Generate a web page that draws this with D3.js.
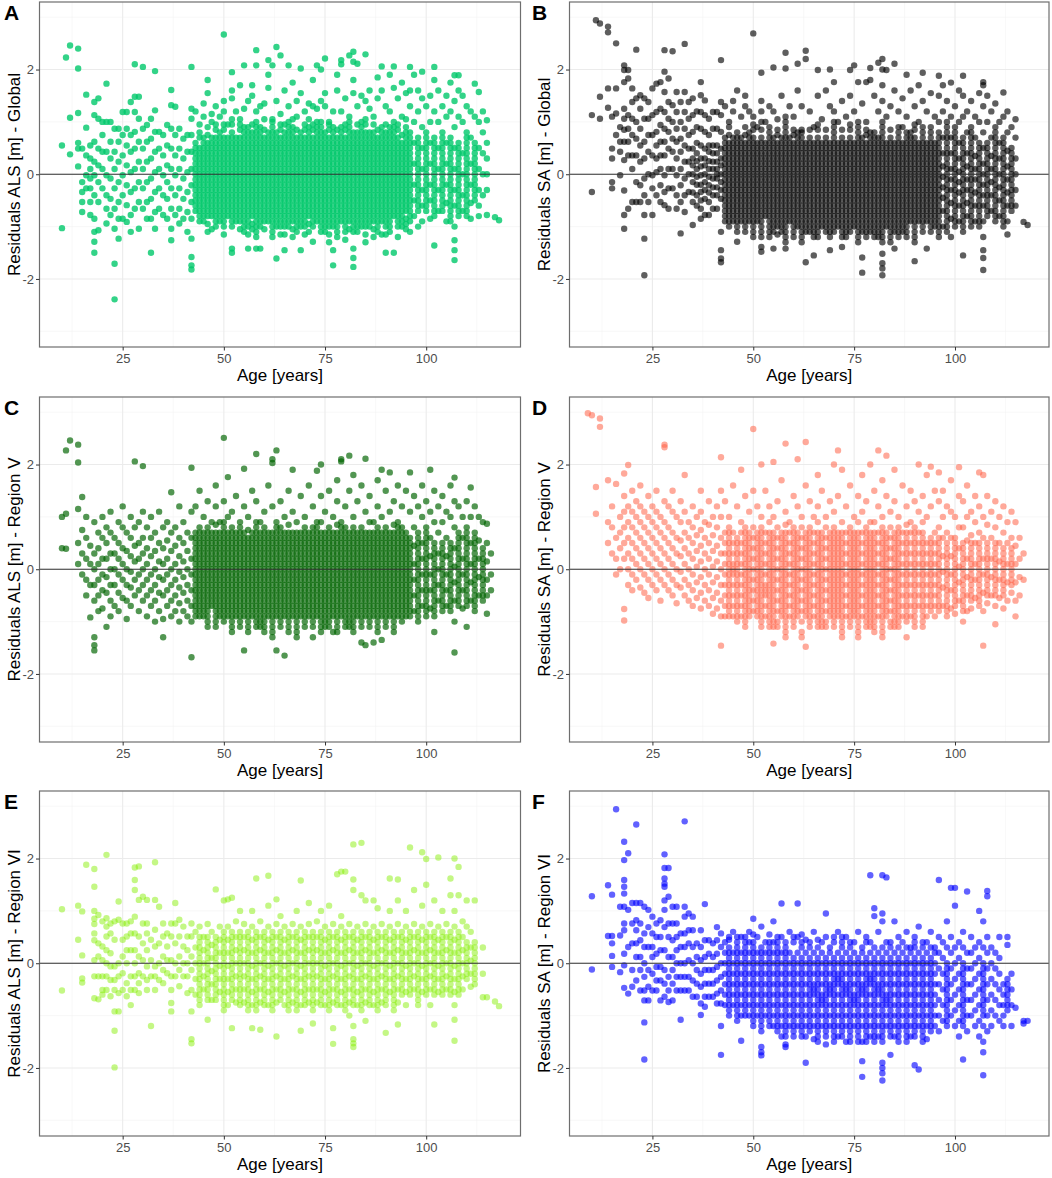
<!DOCTYPE html>
<html lang="en">
<head>
<meta charset="UTF-8">
<title>Residuals by age</title>
<script src="https://d3js.org/d3.v7.min.js"></script>
<style>
  body { margin: 0; background: #fff; }
  text { font-family: "Liberation Sans", Arial, sans-serif; }
</style>
</head>
<body>
<div id="chart"></div>
<script>
// Each row: [age, residual, residual, ...] = points read at that age (an age may appear twice)
const alsGlobal = [
  [10,.55,-1.03],[11,2.23],[12,2.46,1.08,.38],[14,2.4,2.02,1.17,.6,.49,.15],[15,.49,-.15,-.34,-.53,-.72],
  [16,1.52,.89,.36,-.02,-.27],[17,.55,.3,.1,-.08,-.27,-.53,-.78],[18,1.38,1.13,.62,.24,-.02,-.4,-.85,-1.1,-1.29,-1.5],
  [19,1.45,1.06,.49,.17,-.15,-.53,-1.07],[20,1,.75,.43,.1,-.27],[21,1.73,1,.43,-.02,-.4,-.66,-.94],[22,1,.62,.3,-.08,-.47,-.78],
  [23,.87,.43,.1,-.27,-.66,-1.04,-1.71,-2.39],[24,.87,.62,.24,-.15,-.53,-.85,-1.23],[25,1.19,.75,.36,-.02,-.4,-.85],
  [26,1.19,.87,.55,.17,-.21,-.59,-.91],[27,1.38,.75,.43,.04,-.34,-.78,-1.1],[28,2.1,1.48,1.19,.81,.49,.1,-.27,-.66],
  [29,1.48,1.06,.62,.24,-.15,-.53,-1.04],[30,2.05,.87,.49,.1,-.27,-.66],[31,.94,.62,.24,-.15,-.53,-.85],
  [32,1.06,.68,.3,-.08,-.47,-.85,-1.5],[33,1.97,1.22,.81,.43,.04,-.34,-.72,-1.04],[34,.81,.49,.1,-.27,-.66],
  [35,.75,.36,-.02,-.4,-.78],[36,.94,.55,.17,-.15,-.47,-.85],[37,1.61,1.32,.87,.49,.1,-.27,-.66,-1.04,-1.26],
  [38,1.29,.75,.36,-.02,-.4,-.78],[39,.87,.49,.1,-.27,-.66,-.94],[40,.68,.3,-.08,-.47,-.85],[41,.75,.43,.04,-.34,-.72,-1.1],
  [42,2.05,1.25,1.06,.75,.43,.1,-.21,-.53,-.85,-1.23,-1.58,-1.74,-1.82],
  [43,1.2,.6,.5,.4,.3,.2,.1,0,-.1,-.2,-.3,-.4,-.5,-.6,-.7],
  [44,.95,.5,.4,.3,.2,.1,0,-.1,-.2,-.3,-.4,-.5,-.6,-.7,-.8],
  [45,1.35,1.1,.7,.6,.5,.4,.3,.2,.1,0,-.1,-.2,-.3,-.4,-.5,-.6,-.7,-.8,-.9],
  [46,1.8,1.55,.6,.5,.4,.3,.2,.1,0,-.1,-.2,-.3,-.4,-.5,-.6,-.7,-.8],
  [47,1.15,1,.7,.6,.5,.4,.3,.2,.1,0,-.1,-.2,-.3,-.4,-.5,-.6,-.7,-.8,-1.05],
  [48,1.3,.7,.6,.5,.4,.3,.2,.1,0,-.1,-.2,-.3,-.4,-.5,-.6,-.7,-.8,-.9],
  [49,1.1,.8,.7,.6,.5,.4,.3,.2,.1,0,-.1,-.2,-.3,-.4,-.5,-.6,-.7,-.8,-.9],
  [50,2.67,1.4,1.2,.7,.6,.5,.4,.3,.2,.1,0,-.1,-.2,-.3,-.4,-.5,-.6,-.7,-.8,-.9,-1],
  [51,.95,.7,.6,.5,.4,.3,.2,.1,0,-.1,-.2,-.3,-.4,-.5,-.6,-.7,-.8],
  [52,1.95,1.6,1.45,.8,.7,.6,.5,.4,.3,.2,.1,0,-.1,-.2,-.3,-.4,-.5,-.6,-.7,-.8,-.9,-1,-1.42,-1.5],
  [53,1.2,.7,.6,.5,.4,.3,.2,.1,0,-.1,-.2,-.3,-.4,-.5,-.6,-.7,-.8,-.9],
  [54,1.7,1.05,.7,.6,.5,.4,.3,.2,.1,0,-.1,-.2,-.3,-.4,-.5,-.6,-.7,-.8,-.9],
  [55,2.08,1.25,.9,.8,.7,.6,.5,.4,.3,.2,.1,0,-.1,-.2,-.3,-.4,-.5,-.6,-.7,-.8,-.9,-1,-1.1],
  [56,1.4,.7,.6,.5,.4,.3,.2,.1,0,-.1,-.2,-.3,-.4,-.5,-.6,-.7,-.8,-.9,-1,-1.42],
  [57,1.7,1.5,.8,.7,.6,.5,.4,.3,.2,.1,0,-.1,-.2,-.3,-.4,-.5,-.6,-.7,-.8],
  [58,2.37,2.08,1.2,1,.9,.8,.7,.6,.5,.4,.3,.2,.1,0,-.1,-.2,-.3,-.4,-.5,-.6,-.7,-.8,-.9,-1,-1.1,-1.2,-1.42],
  [59,1.3,.7,.6,.5,.4,.3,.2,.1,0,-.1,-.2,-.3,-.4,-.5,-.6,-.7,-.8,-.9,-1.42],
  [60,1.35,1.05,.7,.6,.5,.4,.3,.2,.1,0,-.1,-.2,-.3,-.4,-.5,-.6,-.7,-.8,-.9],
  [61,2.18,1.9,1.65,.8,.7,.6,.5,.4,.3,.2,.1,0,-.1,-.2,-.3,-.4,-.5,-.6,-.7,-.8,-.9],
  [62,2.08,.9,.8,.7,.6,.5,.4,.3,.2,.1,0,-.1,-.2,-.3,-.4,-.5,-.6,-.7,-.8,-.9,-1,-1.1,-1.2],
  [63,2.43,1.4,.8,.7,.6,.5,.4,.3,.2,.1,0,-.1,-.2,-.3,-.4,-.5,-.6,-.7,-.8,-.9,-1,-1.61],
  [64,2.27,1.15,.7,.6,.5,.4,.3,.2,.1,0,-.1,-.2,-.3,-.4,-.5,-.6,-.7,-.8,-.9,-1],
  [65,1.6,.8,.7,.6,.5,.4,.3,.2,.1,0,-.1,-.2,-.3,-.4,-.5,-.6,-.7,-.8,-.9,-1,-1.45],
  [66,2.08,1.3,1,.9,.8,.7,.6,.5,.4,.3,.2,.1,0,-.1,-.2,-.3,-.4,-.5,-.6,-.7,-.8,-.9,-1],
  [67,1.75,.9,.8,.7,.6,.5,.4,.3,.2,.1,0,-.1,-.2,-.3,-.4,-.5,-.6,-.7,-.8,-.9,-1.2],
  [68,1.4,1.1,.7,.6,.5,.4,.3,.2,.1,0,-.1,-.2,-.3,-.4,-.5,-.6,-.7,-.8,-.9],
  [69,2.02,1.55,.8,.7,.6,.5,.4,.3,.2,.1,0,-.1,-.2,-.3,-.4,-.5,-.6,-.7,-.8,-.9,-1,-1.45],
  [70,1.2,.7,.6,.5,.4,.3,.2,.1,0,-.1,-.2,-.3,-.4,-.5,-.6,-.7,-.8,-.9,-1],
  [71,1.35,.9,.8,.7,.6,.5,.4,.3,.2,.1,0,-.1,-.2,-.3,-.4,-.5,-.6,-.7,-.8,-1.1],
  [72,1.8,1.3,.7,.6,.5,.4,.3,.2,.1,0,-.1,-.2,-.3,-.4,-.5,-.6,-.7,-.8,-.9,-1,-1.29],
  [73,2.08,1.25,1,.9,.8,.7,.6,.5,.4,.3,.2,.1,0,-.1,-.2,-.3,-.4,-.5,-.6,-.7,-.8,-.9],
  [74,2,1.4,.8,.7,.6,.5,.4,.3,.2,.1,0,-.1,-.2,-.3,-.4,-.5,-.6,-.7,-.8,-.9,-1.1],
  [75,2.21,1.55,1.3,.8,.7,.6,.5,.4,.3,.2,.1,0,-.1,-.2,-.3,-.4,-.5,-.6,-.7,-.8,-.9,-1,-1.1],
  [76,1,.7,.6,.5,.4,.3,.2,.1,0,-.1,-.2,-.3,-.4,-.5,-.6,-.7,-.8,-.9,-1,-1.3],
  [77,1.2,.9,.8,.7,.6,.5,.4,.3,.2,.1,0,-.1,-.2,-.3,-.4,-.5,-.6,-.7,-.8,-.9,-1,-1.45,-1.74],
  [78,1.9,1.6,.7,.6,.5,.4,.3,.2,.1,0,-.1,-.2,-.3,-.4,-.5,-.6,-.7,-.8,-.9,-1],
  [79,2.18,2.1,1.2,.9,.8,.7,.6,.5,.4,.3,.2,.1,0,-.1,-.2,-.3,-.4,-.5,-.6,-.7,-.8,-.9],
  [80,1.45,.7,.6,.5,.4,.3,.2,.1,0,-.1,-.2,-.3,-.4,-.5,-.6,-.7,-.8,-.9,-1,-1.1],
  [81,2.27,1.1,.9,.8,.7,.6,.5,.4,.3,.2,.1,0,-.1,-.2,-.3,-.4,-.5,-.6,-.7,-.8,-.9],
  [82,2.34,2.15,1.8,1.55,.8,.7,.6,.5,.4,.3,.2,.1,0,-.1,-.2,-.3,-.4,-.5,-.6,-.7,-.8,-.9,-1,-1.1,-1.42,-1.6,-1.77],
  [83,2.11,1.3,.8,.7,.6,.5,.4,.3,.2,.1,0,-.1,-.2,-.3,-.4,-.5,-.6,-.7,-.8,-.9],
  [84,1.5,1,.9,.8,.7,.6,.5,.4,.3,.2,.1,0,-.1,-.2,-.3,-.4,-.5,-.6,-.7,-.8,-.9,-1],
  [85,2.29,1.4,.8,.7,.6,.5,.4,.3,.2,.1,0,-.1,-.2,-.3,-.4,-.5,-.6,-.7,-.8,-.9,-1,-1.3],
  [86,1.6,1.25,.8,.7,.6,.5,.4,.3,.2,.1,0,-.1,-.2,-.3,-.4,-.5,-.6,-.7,-.8,-.9,-1],
  [87,1.1,.8,.7,.6,.5,.4,.3,.2,.1,0,-.1,-.2,-.3,-.4,-.5,-.6,-.7,-.8,-.9,-1.2],
  [88,1.85,1.45,.7,.6,.5,.4,.3,.2,.1,0,-.1,-.2,-.3,-.4,-.5,-.6,-.7,-.8,-.9,-1],
  [89,2.06,1.6,.9,.8,.7,.6,.5,.4,.3,.2,.1,0,-.1,-.2,-.3,-.4,-.5,-.6,-.7,-.8,-.9,-1.15],
  [90,1.3,.8,.7,.6,.5,.4,.3,.2,.1,0,-.1,-.2,-.3,-.4,-.5,-.6,-.7,-.8,-.9,-1,-1.5],
  [91,1.9,1.2,.8,.7,.6,.5,.4,.3,.2,.1,0,-.1,-.2,-.3,-.4,-.5,-.6,-.7,-.8,-.9,-1.1],
  [92,2.06,1.65,1,.9,.8,.7,.6,.5,.4,.3,.2,.1,0,-.1,-.2,-.3,-.4,-.5,-.6,-.7,-.8,-1.5],
  [93,1.45,.7,.6,.5,.4,.3,.2,.1,0,-.1,-.2,-.3,-.4,-.5,-.6,-.7,-.8,-.9,-1.2],
  [94,1.75,1.1,.6,.5,.4,.3,.2,.1,0,-.1,-.2,-.3,-.4,-.5,-.6,-.7,-.8,-1],
  [95,1.55,.9,.8,.7,.6,.5,.4,.3,.2,.1,0,-.1,-.2,-.3,-.4,-.5,-.6,-.7,-1.05],
  [96,2.05,1.6,1.3,.8,.7,.6,.5,.4,.3,.2,.1,0,-.1,-.2,-.3,-.4,-.5,-.6,-.7,-.8,-.9,-1.1],
  [97,1.9,1,.6,.2,-.2,-.5,-.8],[98,1.6,1.2,.7,.6,.5,.4,.3,.2,.1,0,-.1,-.2,-.3,-.4,-.5,-.6,-.7,-1],
  [99,1.96,1.45,.9,.5,.1,-.3,-.6,-.9],[100,1.3,.8,.7,.6,.5,.4,.3,.2,.1,0,-.1,-.2,-.3,-.4,-.5,-.6,-.7],
  [101,1.5,1,.6,.2,-.2,-.5,-.85],[102,2.05,1.8,1.2,.7,.6,.5,.4,.3,.2,.1,0,-.1,-.2,-.3,-.4,-.5,-.6,-.7,-.8,-1.36],
  [103,1.6,1,.5,.1,-.3,-.7],[104,1.3,.8,.7,.6,.5,.4,.3,.2,.1,0,-.1,-.2,-.3,-.4,-.5,-.6,-.7],
  [105,1.5,1.1,.6,.2,-.2,-.55,-.9],[106,1.75,1.2,.7,.6,.5,.4,.3,.2,.1,0,-.1,-.2,-.3,-.4,-.5,-.6,-.7,-.8,-.9],
  [107,1.89,1.4,.9,.5,.1,-.3,-.6,-1,-1.26,-1.45,-1.64],[108,1.89,1.6,1.1,.6,.5,.4,.3,.2,.1,0,-.1,-.2,-.3,-.4,-.5,-.6,-.7,-.8],
  [109,1.5,1,.4,0,-.4,-.7],[110,1.3,.8,.7,.6,.5,.4,.3,.2,.1,0,-.1,-.2,-.3,-.4,-.5,-.6,-.7,-.8],
  [111,1.2,.7,.2,-.2,-.55,-.85],[112,1.73,1.1,.6,.5,.4,.3,.2,.1,0,-.1,-.2,-.3,-.4,-.5],
  [113,1.57,1,.5,.1,-.3,-.6,-.8],[114,1.2,.8,.4,0,-.4],[115,1.03,.6,.3,0,-.3,-.78],[117,-.82],[118,-.88],
  [44,.8,.7,-.9],[46,.9,.75,-.95,-1.1],[48,.95,.85,-1],[50,.95,.85,-1.15],[52,1.05,.95],[54,.95,.85,-1.05],
  [56,.9,.8,-1.15],[57,.95,-.95,-1.05],[59,.9,.8,-1],[60,.85,-1.05],[62,1.05,1],[64,.85,.95,-1.15],[65,.95,-1.15],
  [67,1.05,-1.05],[68,.85,-1,-1.1],[70,.85,.95,-1.15],[71,1.05,-.95],[72,.85,.95],[74,.9,1,-1],[76,.85,.95,-1.15],
  [78,.85,-1.1,-1.2],[80,.85,.95,-1.25],[81,1,-1.05],[83,.95,-1,-1.1],[85,.95,1.05,-1.15],[87,.95,-1.05],[88,.85,-1.1],
  [90,.95,-1.15],[91,.9,-1],[93,.85,.95,-1],[94,.75,-.9],[95,1.05,-.85,-.95]
];

const saGlobal = [
  [10,1.13,-.34],[11,2.94],[12,2.88,1.48,1.06],[14,2.82,2.71,1.64,1.27],[15,1.1,.49,.3,-.15,-.27],[16,2.5,1.64,1.16,.75],
  [17,.9,.62,.43,-.02],[18,2.08,1.99,1.76,1.25,1.06,.85,.62,.27,-.31,-.78,-1.04],[19,1.99,1.83,1.13,.87,.62,.36,-.66],
  [20,1.64,1.38,1.06,.75,.36,.1,-.53],[21,2.38,1.45,1,.68,.36,-.15,-.53],[22,1.51,1.25,.87,.55,.24,-.21,-.53],
  [23,1.45,1.06,.62,.3,-.08,-.4,-.78,-1.23,-1.93],[24,1.38,1.06,.75,.43,0,-.53],[25,1.64,1.13,.75,.36,-.02,-.27,-.78],
  [26,1.73,1.19,.81,.55,.3,.04,-.4],[27,1.76,1.25,.94,.62,.36,.1,-.21,-.53],[28,2.37,1.96,1.57,1.19,.87,.62,.36,-.02,-.34,-.59],
  [29,1.83,1.38,1.06,.81,.49,.1,-.27,-.66],[30,2.35,1.32,1,.68,.43,.1,-.27],[31,1.57,1.19,.87,.62,.3,-.02,-.4,-.66],
  [32,1.38,1,.68,.43,.1,-.21,-.53,-1.13],[33,2.49,1.57,1.19,.87,.55,.24,-.08,-.4,-.72],[34,1.38,1.06,.75,.49,.24,0,-.34],
  [35,1.45,1.13,.81,.49,.3,.17,0,-.15,-.35,-.53,-.97],[36,1.2,.9,.6,.4,.25,.1,-.05,-.2,-.4,-.6],
  [37,1.76,1.51,1.19,.87,.55,.3,.15,-.02,-.2,-.34,-.5,-.66,-.85],[38,1.41,1.13,.81,.49,.3,.17,0,-.15,-.3,-.47,-.78],
  [39,1.06,.75,.55,.43,.25,.1,-.05,-.21,-.35,-.53,-.78],[40,1.19,.87,.55,.4,.24,.1,-.08,-.25,-.4,-.66],
  [41,1.19,.87,.55,.4,.24,.1,0,-.08,-.25,-.4,-.66],[42,2.18,1.38,1.13,.81,.49,.3,.17,0,-.15,-.3,-.47,-1.1,-1.45,-1.61,-1.68],
  [43,1.3,.7,.6,.5,.4,.3,.2,.1,0,-.1,-.2,-.3,-.4,-.5,-.6,-.7,-.8,-.9],
  [44,1,.6,.5,.4,.3,.2,.1,0,-.1,-.2,-.3,-.4,-.5,-.6,-.7,-.8],
  [45,1.4,1.2,.7,.6,.5,.4,.3,.2,.1,0,-.1,-.2,-.3,-.4,-.5,-.6,-.7,-.8,-.9],
  [46,1.6,.6,.5,.4,.3,.2,.1,0,-.1,-.2,-.3,-.4,-.5,-.6,-.7,-.8,-.9,-1,-1.29],
  [47,1.1,.7,.6,.5,.4,.3,.2,.1,0,-.1,-.2,-.3,-.4,-.5,-.6,-.7,-.8,-.9],
  [48,1.5,1.3,.6,.5,.4,.3,.2,.1,0,-.1,-.2,-.3,-.4,-.5,-.6,-.7,-.8,-.9,-1],
  [49,1.2,.8,.7,.6,.5,.4,.3,.2,.1,0,-.1,-.2,-.3,-.4,-.5,-.6,-.7,-.8,-.9],
  [50,2.69,1.1,.7,.6,.5,.4,.3,.2,.1,0,-.1,-.2,-.3,-.4,-.5,-.6,-.7,-.8,-.9,-1],
  [51,.9,.6,.5,.4,.3,.2,.1,0,-.1,-.2,-.3,-.4,-.5,-.6,-.7,-.8,-.9],
  [52,1.94,1.4,1.2,.7,.6,.5,.4,.3,.2,.1,0,-.1,-.2,-.3,-.4,-.5,-.6,-.7,-.8,-.9,-1,-1.1,-1.39,-1.48],
  [53,1,.6,.5,.4,.3,.2,.1,0,-.1,-.2,-.3,-.4,-.5,-.6,-.7,-.8],
  [54,1.3,.8,.7,.6,.5,.4,.3,.2,.1,0,-.1,-.2,-.3,-.4,-.5,-.6,-.7,-.8,-.9,-1],
  [55,2.04,1.2,.7,.6,.5,.4,.3,.2,.1,0,-.1,-.2,-.3,-.4,-.5,-.6,-.7,-.8,-.9,-1,-1.1,-1.42],
  [56,1.05,.6,.5,.4,.3,.2,.1,0,-.1,-.2,-.3,-.4,-.5,-.6,-.7,-.8,-.9],
  [57,1.5,.7,.6,.5,.4,.3,.2,.1,0,-.1,-.2,-.3,-.4,-.5,-.6,-.7,-.8,-.9,-1,-1.1],
  [58,2.32,2.02,.9,.8,.7,.6,.5,.4,.3,.2,.1,0,-.1,-.2,-.3,-.4,-.5,-.6,-.7,-.8,-.9,-1,-1.1,-1.2,-1.42],
  [59,1.3,.7,.6,.5,.4,.3,.2,.1,0,-.1,-.2,-.3,-.4,-.5,-.6,-.7,-.8,-.9],
  [60,1.1,.6,.5,.4,.3,.2,.1,0,-.1,-.2,-.3,-.4,-.5,-.6,-.7,-.8,-.9,-1],
  [61,2.11,1.6,.8,.7,.6,.5,.4,.3,.2,.1,0,-.1,-.2,-.3,-.4,-.5,-.6,-.7,-.8,-.9,-1],
  [62,1.3,.7,.6,.5,.4,.3,.2,.1,0,-.1,-.2,-.3,-.4,-.5,-.6,-.7,-.8,-.9,-1,-1.1],
  [63,2.36,2.2,.6,.5,.4,.3,.2,.1,0,-.1,-.2,-.3,-.4,-.5,-.6,-.7,-.8,-.9,-1,-1.1,-1.68],
  [64,1.2,.7,.6,.5,.4,.3,.2,.1,0,-.1,-.2,-.3,-.4,-.5,-.6,-.7,-.8,-.9],
  [65,.9,.6,.5,.4,.3,.2,.1,0,-.1,-.2,-.3,-.4,-.5,-.6,-.7,-.8,-.9,-1,-1.1,-1.2,-1.55],
  [66,1.99,1.5,.7,.6,.5,.4,.3,.2,.1,0,-.1,-.2,-.3,-.4,-.5,-.6,-.7,-.8,-.9,-1,-1.1],
  [67,1.05,.6,.5,.4,.3,.2,.1,0,-.1,-.2,-.3,-.4,-.5,-.6,-.7,-.8,-.9,-1],
  [68,1.6,.7,.6,.5,.4,.3,.2,.1,0,-.1,-.2,-.3,-.4,-.5,-.6,-.7,-.8,-.9],
  [69,2,1.3,.6,.5,.4,.3,.2,.1,0,-.1,-.2,-.3,-.4,-.5,-.6,-.7,-.8,-.9,-1,-1.1,-1.2,-1.45],
  [70,1.76,1.2,.8,.7,.6,.5,.4,.3,.2,.1,0,-.1,-.2,-.3,-.4,-.5,-.6,-.7,-.8,-.9],
  [71,1,.6,.5,.4,.3,.2,.1,0,-.1,-.2,-.3,-.4,-.5,-.6,-.7,-.8,-.9,-1],
  [72,1.4,.7,.6,.5,.4,.3,.2,.1,0,-.1,-.2,-.3,-.4,-.5,-.6,-.7,-.8,-.9,-1,-1.39],
  [73,1.1,.6,.5,.4,.3,.2,.1,0,-.1,-.2,-.3,-.4,-.5,-.6,-.7,-.8,-.9,-1,-1.1,-1.2],
  [74,1.99,1.5,.7,.6,.5,.4,.3,.2,.1,0,-.1,-.2,-.3,-.4,-.5,-.6,-.7,-.8,-.9],
  [75,2.08,1.2,.6,.5,.4,.3,.2,.1,0,-.1,-.2,-.3,-.4,-.5,-.6,-.7,-.8,-.9,-1],
  [76,1.76,.9,.8,.7,.6,.5,.4,.3,.2,.1,0,-.1,-.2,-.3,-.4,-.5,-.6,-.7,-.8,-.9,-1,-1.1],
  [77,1.35,.7,.6,.5,.4,.3,.2,.1,0,-.1,-.2,-.3,-.4,-.5,-.6,-.7,-.8,-.9,-1,-1.1,-1.59,-1.88],
  [78,1.76,1,.6,.5,.4,.3,.2,.1,0,-.1,-.2,-.3,-.4,-.5,-.6,-.7,-.8,-.9,-1],
  [79,2.03,1.8,.8,.7,.6,.5,.4,.3,.2,.1,0,-.1,-.2,-.3,-.4,-.5,-.6,-.7,-.8,-.9,-1,-1.1],
  [80,1.5,.6,.5,.4,.3,.2,.1,0,-.1,-.2,-.3,-.4,-.5,-.6,-.7,-.8,-.9,-1],
  [81,2.13,1.2,.7,.6,.5,.4,.3,.2,.1,0,-.1,-.2,-.3,-.4,-.5,-.6,-.7,-.8,-.9,-1,-1.1,-1.2],
  [82,2.2,2,1.7,1.4,.8,.7,.6,.5,.4,.3,.2,.1,0,-.1,-.2,-.3,-.4,-.5,-.6,-.7,-.8,-.9,-1,-1.1,-1.52,-1.7,-1.8,-1.93],
  [83,1.99,1.1,.6,.5,.4,.3,.2,.1,0,-.1,-.2,-.3,-.4,-.5,-.6,-.7,-.8,-.9,-1],
  [84,1.3,.7,.6,.5,.4,.3,.2,.1,0,-.1,-.2,-.3,-.4,-.5,-.6,-.7,-.8,-.9,-1,-1.1],
  [85,2.11,1.6,.6,.5,.4,.3,.2,.1,0,-.1,-.2,-.3,-.4,-.5,-.6,-.7,-.8,-.9,-1,-1.1,-1.42],
  [86,1.2,.7,.6,.5,.4,.3,.2,.1,0,-.1,-.2,-.3,-.4,-.5,-.6,-.7,-.8,-.9,-1],
  [87,1.45,.9,.6,.5,.4,.3,.2,.1,0,-.1,-.2,-.3,-.4,-.5,-.6,-.7,-.8,-.9,-1,-1.1],
  [88,1.9,1.1,.7,.6,.5,.4,.3,.2,.1,0,-.1,-.2,-.3,-.4,-.5,-.6,-.7,-.8,-.9,-1],
  [89,1.6,.8,.7,.6,.5,.4,.3,.2,.1,0,-.1,-.2,-.3,-.4,-.5,-.6,-.7,-.8,-.9],
  [90,1.3,.7,.6,.5,.4,.3,.2,.1,0,-.1,-.2,-.3,-.4,-.5,-.6,-.7,-.8,-.9,-1,-1.1,-1.2,-1.66],
  [91,1.7,1,.6,.5,.4,.3,.2,.1,0,-.1,-.2,-.3,-.4,-.5,-.6,-.7,-.8,-.9],
  [92,1.94,1.4,.7,.6,.5,.4,.3,.2,.1,0,-.1,-.2,-.3,-.4,-.5,-.6,-.7,-.8,-.9,-1],
  [93,1.2,.6,.5,.4,.3,.2,.1,0,-.1,-.2,-.3,-.4,-.5,-.6,-.7,-.8,-.9,-1.42],
  [94,1.55,.8,.7,.6,.5,.4,.3,.2,.1,0,-.1,-.2,-.3,-.4,-.5,-.6,-.7,-.8,-.9],
  [95,1.1,.6,.5,.4,.3,.2,.1,0,-.1,-.2,-.3,-.4,-.5,-.6,-.7,-.8,-.9,-1],
  [96,1.88,1.5,1,.6,.5,.4,.3,.2,.1,0,-.1,-.2,-.3,-.4,-.5,-.6,-.7,-.8,-.9,-1,-1.1],
  [97,1.7,1.2,.7,.4,.15,-.05,-.25,-.45,-.7,-1],[98,1.4,.9,.8,.7,.6,.5,.4,.3,.2,.1,0,-.1,-.2,-.3,-.4,-.5,-.6,-.7,-.8,-.9],
  [99,1.75,1.1,.7,.4,.1,-.1,-.3,-.55,-.85,-1.2],[100,1.3,.8,.7,.6,.5,.4,.3,.2,.1,0,-.1,-.2,-.3,-.4,-.5,-.6,-.7,-.8],
  [101,1.6,1,.6,.3,.05,-.15,-.35,-.6,-.9],[102,1.88,1.5,1.1,.7,.6,.5,.4,.3,.2,.1,0,-.1,-.2,-.3,-.4,-.5,-.6,-.7,-.8,-.9,-1,-1.1,-1.55],
  [103,1.2,.8,.4,.15,-.1,-.3,-.55,-.8],[104,1.4,.9,.8,.7,.6,.5,.4,.3,.2,.1,0,-.1,-.2,-.3,-.4,-.5,-.6,-.7,-.8,-.9,-1],
  [105,1.1,.7,.35,.1,-.1,-.35,-.6,-.9],[106,1.55,1,.6,.5,.4,.3,.2,.1,0,-.1,-.2,-.3,-.4,-.5,-.6,-.7,-.8,-.9,-1],
  [107,1.76,1.7,1.3,.8,.5,.2,0,-.2,-.4,-.6,-.9,-1.2,-1.45,-1.6,-1.83],[108,1.5,1,.6,.5,.4,.3,.2,.1,0,-.1,-.2,-.3,-.4,-.5,-.6,-.7,-.8],
  [109,1.2,.7,.35,.1,-.15,-.4,-.7],[110,1.35,.9,.8,.7,.6,.5,.4,.3,.2,.1,0,-.1,-.2,-.3,-.4,-.5,-.6,-.7,-.8,-.9],
  [111,1,.6,.3,0,-.25,-.5,-.8],[112,1.56,1.1,.7,.6,.5,.4,.3,.2,.1,0,-.1,-.2,-.3,-.4,-.5,-.6,-.7,-.8,-.9,-1],
  [113,1.2,.8,.45,.15,-.1,-.35,-.6,-.9,-1.15],[114,.9,.5,.4,.3,.2,.1,0,-.1,-.2,-.3,-.4,-.5,-.6,-.7],
  [115,1.05,.7,.3,0,-.3,-.6],[117,-.91],[118,-.97],
  [44,.75,.9,-.9,-1],[46,.8,.7,-1.1],[48,.75,.9,-1.1],[50,.85,.95,-1.1,-1.2],[52,.85,1,-1.2],[54,.9,-1.1,-1.2],
  [56,.75,.85,-1,-1.15],[58,1,1.1,-1.3],[60,.75,.85,-1.1,-1.2],[62,.85,.8,-1.2,-1.3],[64,.85,-1,-1.1],[66,.85,.95,-1.2],
  [68,.85,-1,-1.1],[70,.9,1,-1,-1.1],[72,.85,-1.1,-1.2],[74,.85,.95,-1,-1.1],[76,1,-1.2,-1.3],[78,.75,.85,-1.1,-1.2],
  [80,.7,.8,-1.1,-1.2],[82,.9,1,-1.2,-1.3],[84,.85,-1.2,-1.3],[86,.8,.9,-1.1,-1.2],[88,.8,-1.1,-1.2],[90,.85,.95,-1.3],
  [92,.8,.9,-1.1],[94,.9,-1,-1.1],[96,.7,.8,-1.2],[98,1,-1,-1.1],[100,.9,-.9,-1]
];

const alsRegionV = [
  [10,1,.4],[11,2.27,1.06,.39],[12,2.46],[14,2.38,2.04,1.15,.5,.1],[15,1.38,.75,.3,-.1],[16,1,.6,.2,-.2,-.5],[17,.45,.1,-.3,-.92],
  [18,.9,.3,0,-.3,-.6,-1.3,-1.45,-1.55],[19,.7,.4,.1,-.2,-.5,-.8],[20,1,.6,.2,-.1,-.4,-.75],[21,.8,.5,.2,-.15,-.45,-1.1],
  [22,1.1,.7,.3,0,-.3,-.6,-.9],[23,.6,.3,0,-.3,-.7],[24,.9,.5,.2,-.1,-.45,-.8],[25,1.2,.8,.4,.1,-.2,-.55],
  [26,.7,.35,0,-.3,-.6,-.95],[27,1,.6,.25,-.05,-.35,-.7],[28,2.06,.8,.45,.15,-.2,-.5],[29,.9,.5,.2,-.1,-.4,-.8],
  [30,1.97,1.1,.6,.3,0,-.3,-.6],[31,.8,.4,.1,-.2,-.5,-.9],[32,1,.6,.25,-.1,-.4,-.7],[33,.7,.35,0,-.3,-.6,-1],
  [34,1.1,.5,.15,-.15,-.45,-.8],[35,.8,.4,.1,-.2,-.5,-.95,-1.3],[36,.9,.55,.2,-.1,-.4,-.7],[37,1.47,.7,.35,0,-.3,-.6,-.9],
  [38,.8,.45,.1,-.2,-.5,-.8],[39,1.2,.6,.25,-.05,-.35,-.65,-1],[40,.9,.5,.15,-.15,-.45,-.8],[41,.7,.35,0,-.3,-.6,-.9],
  [42,1.94,1.1,.6,.2,-.1,-.4,-.7,-1,-1.68],
  [43,1.2,.7,.6,.5,.4,.3,.2,.1,0,-.1,-.2,-.3,-.4,-.5,-.6,-.7,-.8,-.9],
  [44,1.5,.6,.5,.4,.3,.2,.1,0,-.1,-.2,-.3,-.4,-.5,-.6,-.7,-.8],
  [45,1,.7,.6,.5,.4,.3,.2,.1,0,-.1,-.2,-.3,-.4,-.5,-.6,-.7,-.8,-.9],
  [46,1.3,.6,.5,.4,.3,.2,.1,0,-.1,-.2,-.3,-.4,-.5,-.6,-.7,-.8,-.9,-1],
  [47,.9,.7,.6,.5,.4,.3,.2,.1,0,-.1,-.2,-.3,-.4,-.5,-.6,-.7],
  [48,1.6,1.2,.6,.5,.4,.3,.2,.1,0,-.1,-.2,-.3,-.4,-.5,-.6,-.7,-.8,-.9,-1],
  [49,.9,.7,.6,.5,.4,.3,.2,.1,0,-.1,-.2,-.3,-.4,-.5,-.6,-.7,-.8,-.9],
  [50,2.51,1.3,.8,.7,.6,.5,.4,.3,.2,.1,0,-.1,-.2,-.3,-.4,-.5,-.6,-.7,-.8],
  [51,1.76,1,.7,.6,.5,.4,.3,.2,.1,0,-.1,-.2,-.3,-.4,-.5,-.6,-.7,-.8,-.9],
  [52,1.1,.6,.5,.4,.3,.2,.1,0,-.1,-.2,-.3,-.4,-.5,-.6,-.7,-.8,-.9,-1],
  [53,1.4,.7,.6,.5,.4,.3,.2,.1,0,-.1,-.2,-.3,-.4,-.5,-.6,-.7,-.8,-.9],
  [54,.9,.6,.5,.4,.3,.2,.1,0,-.1,-.2,-.3,-.4,-.5,-.6,-.7,-.8,-.9,-1],
  [55,1.92,1.2,.7,.6,.5,.4,.3,.2,.1,0,-.1,-.2,-.3,-.4,-.5,-.6,-.7,-.8,-.9,-1.55],
  [56,1,.6,.5,.4,.3,.2,.1,0,-.1,-.2,-.3,-.4,-.5,-.6,-.7,-.8,-.9,-1,-1.1],
  [57,1.5,.7,.6,.5,.4,.3,.2,.1,0,-.1,-.2,-.3,-.4,-.5,-.6,-.7,-.8,-.9],
  [58,2.2,1.3,.8,.7,.6,.5,.4,.3,.2,.1,0,-.1,-.2,-.3,-.4,-.5,-.6,-.7,-.8,-.9,-1],
  [59,.9,.7,.6,.5,.4,.3,.2,.1,0,-.1,-.2,-.3,-.4,-.5,-.6,-.7,-.8,-.9,-1,-1.1],
  [60,1.1,.6,.5,.4,.3,.2,.1,0,-.1,-.2,-.3,-.4,-.5,-.6,-.7,-.8,-.9,-1],
  [61,1.6,.7,.6,.5,.4,.3,.2,.1,0,-.1,-.2,-.3,-.4,-.5,-.6,-.7,-.8,-.9],
  [62,2.1,2.03,1.2,.6,.5,.4,.3,.2,.1,0,-.1,-.2,-.3,-.4,-.5,-.6,-.7,-.8,-.9,-1,-1.1,-1.2],
  [63,2.27,.9,.8,.7,.6,.5,.4,.3,.2,.1,0,-.1,-.2,-.3,-.4,-.5,-.6,-.7,-.8,-.9,-1.55],
  [64,1.3,.6,.5,.4,.3,.2,.1,0,-.1,-.2,-.3,-.4,-.5,-.6,-.7,-.8,-.9,-1],
  [65,1,.7,.6,.5,.4,.3,.2,.1,0,-.1,-.2,-.3,-.4,-.5,-.6,-.7,-.8,-.9,-1.65],
  [66,1.5,.6,.5,.4,.3,.2,.1,0,-.1,-.2,-.3,-.4,-.5,-.6,-.7,-.8,-.9,-1],
  [67,1.9,1.1,.7,.6,.5,.4,.3,.2,.1,0,-.1,-.2,-.3,-.4,-.5,-.6,-.7,-.8,-.9],
  [68,.9,.6,.5,.4,.3,.2,.1,0,-.1,-.2,-.3,-.4,-.5,-.6,-.7,-.8,-.9,-1,-1.1,-1.2],
  [69,1.4,.7,.6,.5,.4,.3,.2,.1,0,-.1,-.2,-.3,-.4,-.5,-.6,-.7,-.8,-.9],
  [70,1,.6,.5,.4,.3,.2,.1,0,-.1,-.2,-.3,-.4,-.5,-.6,-.7,-.8,-.9,-1],
  [71,1.6,.7,.6,.5,.4,.3,.2,.1,0,-.1,-.2,-.3,-.4,-.5,-.6,-.7,-.8,-.9],
  [72,1.2,.6,.5,.4,.3,.2,.1,0,-.1,-.2,-.3,-.4,-.5,-.6,-.7,-.8,-.9,-1,-1.3],
  [73,1.88,.9,.8,.7,.6,.5,.4,.3,.2,.1,0,-.1,-.2,-.3,-.4,-.5,-.6,-.7,-.8,-.9],
  [74,2,1.4,.6,.5,.4,.3,.2,.1,0,-.1,-.2,-.3,-.4,-.5,-.6,-.7,-.8,-.9,-1],
  [75,1.1,.7,.6,.5,.4,.3,.2,.1,0,-.1,-.2,-.3,-.4,-.5,-.6,-.7,-.8,-.9,-1,-1.1],
  [76,1.5,.6,.5,.4,.3,.2,.1,0,-.1,-.2,-.3,-.4,-.5,-.6,-.7,-.8,-.9,-1],
  [77,1,.7,.6,.5,.4,.3,.2,.1,0,-.1,-.2,-.3,-.4,-.5,-.6,-.7,-.8,-.9,-1.2],
  [78,1.7,1.3,.6,.5,.4,.3,.2,.1,0,-.1,-.2,-.3,-.4,-.5,-.6,-.7,-.8,-.9,-1],
  [79,2.1,2.06,.9,.8,.7,.6,.5,.4,.3,.2,.1,0,-.1,-.2,-.3,-.4,-.5,-.6,-.7,-.8,-.9],
  [80,1.2,.6,.5,.4,.3,.2,.1,0,-.1,-.2,-.3,-.4,-.5,-.6,-.7,-.8,-.9,-1],
  [81,2.17,1.5,.7,.6,.5,.4,.3,.2,.1,0,-.1,-.2,-.3,-.4,-.5,-.6,-.7,-.8,-.9,-1,-1.1],
  [82,1.8,1,.6,.5,.4,.3,.2,.1,0,-.1,-.2,-.3,-.4,-.5,-.6,-.7,-.8,-.9,-1],
  [83,1.3,.7,.6,.5,.4,.3,.2,.1,0,-.1,-.2,-.3,-.4,-.5,-.6,-.7,-.8,-.9],
  [84,1.6,.6,.5,.4,.3,.2,.1,0,-.1,-.2,-.3,-.4,-.5,-.6,-.7,-.8,-.9,-1,-1.4],
  [85,2.11,1.1,.7,.6,.5,.4,.3,.2,.1,0,-.1,-.2,-.3,-.4,-.5,-.6,-.7,-.8,-.9,-1.45],
  [86,1.4,.6,.5,.4,.3,.2,.1,0,-.1,-.2,-.3,-.4,-.5,-.6,-.7,-.8,-.9,-1],
  [87,.9,.7,.6,.5,.4,.3,.2,.1,0,-.1,-.2,-.3,-.4,-.5,-.6,-.7,-.8,-.9,-1.4],
  [88,1.7,1.2,.6,.5,.4,.3,.2,.1,0,-.1,-.2,-.3,-.4,-.5,-.6,-.7,-.8,-.9,-1],
  [89,1.9,1,.7,.6,.5,.4,.3,.2,.1,0,-.1,-.2,-.3,-.4,-.5,-.6,-.7,-.8,-.9,-1.35],
  [90,1.5,.6,.5,.4,.3,.2,.1,0,-.1,-.2,-.3,-.4,-.5,-.6,-.7,-.8,-.9,-1],
  [91,1.85,1.1,.7,.6,.5,.4,.3,.2,.1,0,-.1,-.2,-.3,-.4,-.5,-.6,-.7,-.8,-.9],
  [92,1.3,.6,.5,.4,.3,.2,.1,0,-.1,-.2,-.3,-.4,-.5,-.6,-.7,-.8,-.9,-1],
  [93,1.6,.9,.8,.7,.6,.5,.4,.3,.2,.1,0,-.1,-.2,-.3,-.4,-.5,-.6,-.7,-.8,-.9],
  [94,1.2,.6,.5,.4,.3,.2,.1,0,-.1,-.2,-.3,-.4,-.5,-.6,-.7,-.8],
  [95,1.5,.7,.6,.5,.4,.3,.2,.1,0,-.1,-.2,-.3,-.4,-.5,-.6,-.7,-.8,-.9],
  [96,1.85,1.1,.6,.5,.4,.3,.2,.1,0,-.1,-.2,-.3,-.4,-.5,-.6,-.7,-.8,-.9],[97,1.4,.8,.45,.1,-.2,-.5,-.8],
  [98,1.2,.7,.6,.5,.4,.3,.2,.1,0,-.1,-.2,-.3,-.4,-.5,-.6,-.7,-.8,-.9,-1],[99,1.6,1,.5,.2,-.1,-.4,-.7],
  [100,1.3,.8,.7,.6,.5,.4,.3,.2,.1,0,-.1,-.2,-.3,-.4,-.5,-.6,-.7,-.8,-.9],[101,1.9,1.1,.6,.25,-.1,-.4,-.75],
  [102,1.5,.9,.5,.4,.3,.2,.1,0,-.1,-.2,-.3,-.4,-.5,-.6,-.7,-.8,-.9,-1.2],[103,1.2,.7,.3,0,-.3,-.6],
  [104,1.4,.9,.5,.4,.3,.2,.1,0,-.1,-.2,-.3,-.4,-.5,-.6,-.7,-.8],[105,1.1,.6,.25,-.1,-.4,-.7],
  [106,1.6,1,.5,.4,.3,.2,.1,0,-.1,-.2,-.3,-.4,-.5,-.6,-.7,-.8],[107,1.75,1.3,.8,.4,.05,-.25,-.6,-1,-1.59],
  [108,1.2,.7,.6,.5,.4,.3,.2,.1,0,-.1,-.2,-.3,-.4,-.5,-.6,-.7],[109,1,.6,.2,-.1,-.4,-.75],
  [110,1.3,.8,.7,.6,.5,.4,.3,.2,.1,0,-.1,-.2,-.3,-.4,-.5,-.6,-.7,-1.1],[111,1.56,1,.5,.1,-.25,-.6],
  [112,1.2,.7,.6,.5,.4,.3,.2,.1,0,-.1,-.2,-.3,-.4,-.5,-.6,-.7,-.8],[113,1,.55,.2,-.15,-.5],
  [114,.9,.4,.3,.2,.1,0,-.1,-.2,-.3,-.4,-.5,-.6],[115,.87,.5,.15,-.2,-.5,-.85],[116,.3,-.1,-.4],
  [44,.7,.8,-.9],[46,.7,.8,-1.1],[48,.7,.85,-1.1],[50,.9,-.9,-1],[52,.7,.8,-1.1,-1.2],[54,.7,.8,-1.1],[56,.75,-1.2],
  [58,.9,-1.1],[60,.7,.8,-1.1,-1.2],[62,.7,-1.3],[64,.7,.8,-1.1],[66,.7,.85,-1.1,-1.2],[68,.7,-1.3],[70,.7,.8,-1.1],
  [72,.7,.8,-1.1],[74,.7,.9,-1.1,-1.2],[76,.7,.8,-1.1],[78,.7,.85,-1.1,-1.2],[80,.7,.8,-1.1],[82,.7,.8,-1.1,-1.2],
  [84,.7,.8,-1.1],[86,.7,.9,-1.1],[88,.7,.8,-1.1,-1.2],[90,.7,.8,-1.1],[92,.7,.85,-1.1,-1.2],[94,.7,.8,-.9,-1]
];

const saRegionV = [
  [9,2.98],[10,2.94],[11,1.57,1.06],[12,2.88,2.72],[14,1.7,.9,.5],[15,1.2,.8,.3],[16,1.63,.6,.2,-.1],[17,1,.7,.4,0],
  [18,1.83,1.4,1.1,.8,.5,.2,-.76,-.98],[19,1.99,1.2,.9,.6,.3,0,-.3],[20,1.5,1.1,.8,.5,.2,-.1,-.4],[21,1.3,1,.7,.4,.1,-.2],
  [22,1.6,1.2,.9,.6,.3,0,-.35],[23,1.1,.8,.5,.2,-.1,-.45],[24,1.4,1,.7,.4,.1,-.2,-.55],[25,1.2,.9,.6,.3,0,-.3],
  [26,1.5,1.1,.8,.5,.2,-.1,-.4],[27,1,.7,.4,.1,-.2,-.6],[28,2.38,2.33,1.3,.9,.6,.3,0,-.3],[29,1.2,.8,.5,.2,-.1,-.4],
  [30,1.5,1.1,.7,.4,.1,-.2,-.5],[31,1,.6,.3,0,-.3,-.65],[32,1.3,.9,.55,.25,-.05,-.35],[33,1.8,1.1,.7,.4,.1,-.2,-.5],
  [34,.9,.6,.3,0,-.3,-.6],[35,1.2,.8,.5,.2,-.1,-.4,-.7],[36,1,.65,.35,.05,-.25,-.55],[37,1.5,1.1,.75,.45,.15,-.15,-.45,-.75],
  [38,.9,.6,.3,0,-.3,-.6],[39,1.3,.85,.5,.2,-.1,-.4,-.7],[40,1,.65,.35,.05,-.25,-.55,-.85],[41,1.2,.8,.45,.15,-.15,-.45,-.75],
  [42,2.14,1.5,1,.6,.3,0,-.3,-.6,-.9,-1.46],
  [43,1.3,.7,.5,.3,.1,-.1,-.3,-.5,-.7,-.9],
  [44,1,.6,.5,.4,.3,.2,.1,0,-.1,-.2,-.3,-.4,-.5,-.6,-.7,-.8],
  [45,1.6,.7,.5,.3,.1,0,-.1,-.3,-.5,-.7,-.9],
  [46,1.2,.6,.5,.4,.3,.2,.1,0,-.1,-.2,-.3,-.4,-.5,-.6,-.7,-.8,-.9,-1],
  [47,1.9,.9,.7,.5,.3,.1,-.1,-.3,-.5,-.7,-.9],
  [48,1.4,.6,.5,.4,.3,.2,.1,0,-.1,-.2,-.3,-.4,-.5,-.6,-.7,-.8,-.9,-1],
  [49,1.1,.7,.6,.5,.4,.3,.2,.1,0,-.1,-.2,-.3,-.4,-.5,-.6,-.7,-.8,-.9],
  [50,2.68,1.5,.8,.6,.4,.2,0,-.2,-.4,-.6,-.8],
  [51,1.2,.7,.6,.5,.4,.3,.2,.1,0,-.1,-.2,-.3,-.4,-.5,-.6,-.7,-.8,-.9],
  [52,2,1,.6,.5,.4,.3,.2,.1,0,-.1,-.2,-.3,-.4,-.5,-.6,-.7,-.8,-.9,-1],
  [53,1.5,.7,.5,.3,.1,-.1,-.3,-.4,-.5,-.7,-.9],
  [54,1.2,.6,.5,.4,.3,.2,.1,0,-.1,-.2,-.3,-.4,-.5,-.6,-.7,-.8,-.9,-1],
  [55,2.05,1,.7,.6,.5,.4,.3,.2,.1,0,-.1,-.2,-.3,-.4,-.5,-.6,-.7,-.8,-.9,-1,-1.1,-1.42],
  [56,1.3,.6,.4,.2,0,-.2,-.4,-.6,-.8,-1],
  [57,1.7,.7,.6,.5,.4,.3,.2,.1,0,-.1,-.2,-.3,-.4,-.5,-.6,-.7,-.8,-.9],
  [58,2.4,1.1,.6,.5,.4,.3,.2,.1,0,-.1,-.2,-.3,-.4,-.5,-.6,-.7,-.8,-.9,-1,-1.1,-1.2],
  [59,.9,.7,.5,.3,.1,-.1,-.3,-.5,-.7,-.9],
  [60,1.4,.6,.5,.4,.3,.2,.1,0,-.1,-.2,-.3,-.4,-.5,-.6,-.7,-.8,-.9,-1],
  [61,2.1,1.2,.7,.6,.5,.4,.3,.2,.1,0,-.1,-.2,-.3,-.4,-.5,-.6,-.7,-.8,-.9],
  [62,1,.6,.4,.2,0,-.2,-.4,-.6,-.8,-1,-1.2],
  [63,2.43,1.6,.7,.6,.5,.4,.3,.2,.1,0,-.1,-.2,-.3,-.4,-.5,-.6,-.7,-.8,-.9,-1.48],
  [64,1.3,.6,.5,.4,.3,.2,.1,0,-.1,-.2,-.3,-.4,-.5,-.6,-.7,-.8,-.9,-1],
  [65,1,.7,.5,.3,.1,-.1,-.3,-.5,-.7,-.9],
  [66,1.8,1.2,.6,.5,.4,.3,.2,.1,0,-.1,-.2,-.3,-.4,-.5,-.6,-.7,-.8,-.9,-1],
  [67,1.5,.7,.6,.5,.4,.3,.2,.1,0,-.1,-.2,-.3,-.4,-.5,-.6,-.7,-.8,-.9,-1,-1.1],
  [68,1,.6,.4,.2,0,-.2,-.4,-.6,-.8,-1],
  [69,1.3,.7,.6,.5,.4,.3,.2,.1,0,-.1,-.2,-.3,-.4,-.5,-.6,-.7,-.8,-.9],
  [70,2,1.1,.6,.5,.4,.3,.2,.1,0,-.1,-.2,-.3,-.4,-.5,-.6,-.7,-.8,-.9,-1],
  [71,2.27,1.4,.7,.6,.5,.4,.3,.2,.1,0,-.1,-.2,-.3,-.4,-.5,-.6,-.7,-.8,-.9],
  [72,1.9,.9,.6,.5,.4,.3,.2,.1,0,-.1,-.2,-.3,-.4,-.5,-.6,-.7,-.8,-.9,-1,-1.1,-1.2],
  [73,1.2,.7,.5,.3,.1,-.1,-.3,-.5,-.7,-.9],
  [74,1.6,.6,.5,.4,.3,.2,.1,0,-.1,-.2,-.3,-.4,-.5,-.6,-.7,-.8,-.9,-1],
  [75,1,.7,.6,.5,.4,.3,.2,.1,0,-.1,-.2,-.3,-.4,-.5,-.6,-.7,-.8,-.9],
  [76,1.4,.6,.5,.4,.3,.2,.1,0,-.1,-.2,-.3,-.4,-.5,-.6,-.7,-.8,-.9,-1,-1.1,-1.2],
  [77,1.8,1.1,.7,.5,.3,.1,-.1,-.3,-.5,-.7,-.9],
  [78,1.3,.6,.5,.4,.3,.2,.1,0,-.1,-.2,-.3,-.4,-.5,-.6,-.7,-.8,-.9,-1],
  [79,2,.9,.7,.6,.5,.4,.3,.2,.1,0,-.1,-.2,-.3,-.4,-.5,-.6,-.7,-.8,-.9,-1,-1.1],
  [80,1.5,.6,.5,.4,.3,.2,.1,0,-.1,-.2,-.3,-.4,-.5,-.6,-.7,-.8,-.9,-1],
  [81,2.27,1.2,.7,.5,.3,.1,-.1,-.3,-.5,-.7,-.9],
  [82,1.7,1,.6,.5,.4,.3,.2,.1,0,-.1,-.2,-.3,-.4,-.5,-.6,-.7,-.8,-.9,-1,-1.1,-1.2],
  [83,2.17,1.4,.7,.6,.5,.4,.3,.2,.1,0,-.1,-.2,-.3,-.4,-.5,-.6,-.7,-.8,-.9],
  [84,1.1,.6,.4,.2,0,-.2,-.4,-.6,-.8,-1],
  [85,1.9,1.3,.7,.6,.5,.4,.3,.2,.1,0,-.1,-.2,-.3,-.4,-.5,-.6,-.7,-.8,-.9,-1,-1.1],
  [86,1,.6,.5,.4,.3,.2,.1,0,-.1,-.2,-.3,-.4,-.5,-.6,-.7,-.8,-.9,-1],
  [87,1.6,.7,.5,.3,.1,-.1,-.3,-.5,-.7,-.9],
  [88,1.2,.6,.5,.4,.3,.2,.1,0,-.1,-.2,-.3,-.4,-.5,-.6,-.7,-.8,-.9,-1,-1.3],
  [89,1.5,.9,.7,.5,.3,.1,-.1,-.3,-.5,-.7,-.9],
  [90,1.3,.6,.5,.4,.3,.2,.1,0,-.1,-.2,-.3,-.4,-.5,-.6,-.7,-.8,-.9,-1],
  [91,2,1.1,.7,.5,.3,.1,-.1,-.3,-.5,-.7],
  [92,1.4,.6,.5,.4,.3,.2,.1,0,-.1,-.2,-.3,-.4,-.5,-.6,-.7,-.8,-.9,-1],
  [93,1.8,1,.5,.3,.1,-.1,-.3,-.5,-.7,-.9],
  [94,1.96,1.2,.6,.5,.4,.3,.2,.1,0,-.1,-.2,-.3,-.4,-.5,-.6,-.7,-.8],
  [95,1.5,.7,.5,.3,.1,-.1,-.3,-.5,-.7,-.9],
  [96,1.85,1.3,.8,.6,.5,.4,.3,.2,.1,0,-.1,-.2,-.3,-.4,-.5,-.6,-.7,-.8],[97,1.5,1,.6,.25,-.05,-.35,-.7],
  [98,1.2,.7,.5,.4,.3,.2,.1,0,-.1,-.2,-.3,-.4,-.5,-.6,-.7,-.8,-.9],[99,1.7,1.1,.6,.25,-.1,-.4,-.75],
  [100,1,.6,.5,.4,.3,.2,.1,0,-.1,-.2,-.3,-.4,-.5,-.6,-.7,-.85],[101,1.95,1.4,.8,.4,.05,-.25,-.6],
  [102,1.3,.8,.5,.4,.3,.2,.1,0,-.1,-.2,-.3,-.4,-.5,-.6,-.7,-.8,-1],[103,1.6,1,.55,.2,-.15,-.5,-.8],
  [104,1.1,.65,.5,.4,.3,.2,.1,0,-.1,-.2,-.3,-.4,-.5,-.6,-.75],[105,1.4,.9,.5,.1,-.2,-.55],
  [106,1.85,1.2,.7,.5,.4,.3,.2,.1,0,-.1,-.2,-.3,-.4,-.5,-.6,-.7],[107,1.8,1,.6,.2,-.1,-.45,-.8,-1.46],
  [108,1.4,.85,.5,.4,.3,.2,.1,0,-.1,-.2,-.3,-.4,-.5,-.65],[109,1.1,.6,.2,-.15,-.5],
  [110,1.3,.8,.5,.4,.3,.2,.1,0,-.1,-.2,-.3,-.4,-.5,-.7,-1.05],[111,1,.5,.15,-.2,-.55],
  [112,1.2,.7,.4,.3,.2,.1,0,-.1,-.2,-.3,-.4,-.5,-.75],[113,.9,.5,.1,-.25,-.6],
  [114,1.1,.6,.4,.3,.2,.1,0,-.1,-.2,-.3,-.45],[115,.9,.45,.1,-.25,-.6,-.9],[116,.6,.2,-.15,-.5],[117,.3,-.2],
  [44,.7,.8,-.9],[48,.7,.8,-1.1],[52,.7,.8,-1.1],[54,.7,.9,-1.1],[56,.8,-1.1],[58,.7,.85,-1.3],[60,.7,.8,-1.1],
  [62,.8,-1.3],[64,.7,.8,-1.1],[66,.7,.9,-1.1],[68,.8,-1.1],[70,.7,.8,-1.1],[72,.7,-1.3],[74,.7,.8,-1.1],
  [76,.7,.9,-1.3],[78,.7,.8,-1.1],[80,.7,.9,-1.1,-1.2],[82,.7,.8,-1.3],[84,.8,-1.1],[86,.7,.8,-1.1],[88,.7,.85],
  [90,.7,.8,-1.1],[92,.7,.9,-1.1]
];

const alsRegionVI = [
  [10,1.03,-.52],[14,1.1,.45],[15,.99,.15,-.29,-.37],[16,1.88],[18,1.8,1.46,1,.85,.75,.57,.44,.06,-.25,-.67],
  [19,.92,.38,.13,-.25,-.69],[20,.8,.32,.06,-.25,-.51,-.6],[21,2.07,.86,.7,.51,.25,0,-.25,-.51],[22,.76,.57,.19,-.06,-.32,-.63],
  [23,.8,.45,-.06,-.32,-.51,-.92,-1.29,-1.99],[24,1.18,.83,0,-.25,-.57,-.92],[25,.76,.45,.13,-.19,-.51],[26,.76,.51,.25,0,-.38,-.63],
  [27,.8,.57,.25,-.25,-.51,-.8],[28,1.83,1.59,1.4,.89,.57,.25,0,-.25,-.51],[29,1.85,1.21,.51,.13,-.19,-.38,-.57],
  [30,1.27,.76,.38,.06,-.25],[31,1.21,.76,.57,.25,-.06,-.32,-.51],[32,.45,.06,-.25,-1.2],[33,1.93,1.21,.64,.32,-.06,-.25,-.51],
  [34,1.08,.38,0,-.32],[35,.76,.51,.13,-.13,-.38],[36,.57,.32,.06,-.19],[37,.76,.51,.06,-.25,-.51,-.76,-.92],
  [38,1.15,.76,.38,0,-.25],[39,.83,.51,.13,-.13,-.44],[40,.7,.32,0,-.25],[41,.51,.25,0,-.25,-.57],
  [42,.76,.51,.13,-.13,-.51,-.92,-1.45,-1.53],
  [43,.6,.3,0,-.3,-.6],[44,.7,.5,.4,.3,.2,.1,0,-.1,-.2,-.3,-.4,-.5,-.6,-.7,-.8],[45,.5,.25,0,-.25,-.5],
  [46,.75,.5,.4,.3,.2,.1,0,-.1,-.2,-.3,-.4,-.5,-.6,-.7,-1.08],[47,.6,.35,.1,-.15,-.4,-.7],
  [48,1.41,.5,.4,.3,.2,.1,0,-.1,-.2,-.3,-.4,-.5,-.6,-.7],[49,.7,.45,.2,-.05,-.3,-.55],
  [50,1.2,.6,.5,.4,.3,.2,.1,0,-.1,-.2,-.3,-.4,-.5,-.6,-.7,-.8,-.9],[51,1.22,.7,.45,.2,-.05,-.3,-.55,-.8],
  [52,1.25,.6,.5,.4,.3,.2,.1,0,-.1,-.2,-.3,-.4,-.5,-.6,-.7,-1.24],[53,.8,.5,.25,0,-.25,-.5,-.75],
  [54,1,.6,.5,.4,.3,.2,.1,0,-.1,-.2,-.3,-.4,-.5,-.6,-.7,-.8],[55,.75,.5,.25,0,-.25,-.5,-.75],
  [56,.6,.5,.4,.3,.2,.1,0,-.1,-.2,-.3,-.4,-.5,-.6,-.7,-.8,-.9],[57,1,.7,.45,.2,-.05,-.3,-.55,-.8,-1.24],
  [58,1.62,.6,.5,.4,.3,.2,.1,0,-.1,-.2,-.3,-.4,-.5,-.6,-.7,-.8,-.9],[59,.8,.5,.25,0,-.25,-.5,-.75,-1.27],
  [60,.6,.5,.4,.3,.2,.1,0,-.1,-.2,-.3,-.4,-.5,-.6,-.7,-.8],[61,1.67,1.1,.7,.45,.2,-.05,-.3,-.55,-.8],
  [62,.6,.5,.4,.3,.2,.1,0,-.1,-.2,-.3,-.4,-.5,-.6,-.7,-.8,-.9],[63,1.22,.75,.5,.25,0,-.25,-.5,-.75,-1.4],
  [64,.9,.6,.5,.4,.3,.2,.1,0,-.1,-.2,-.3,-.4,-.5,-.6,-.7],[65,.7,.45,.2,-.05,-.3,-.55,-.8],
  [66,.6,.5,.4,.3,.2,.1,0,-.1,-.2,-.3,-.4,-.5,-.6,-.7,-.8,-.9],[67,.75,.5,.25,0,-.25,-.5,-.75],
  [68,1,.6,.5,.4,.3,.2,.1,0,-.1,-.2,-.3,-.4,-.5,-.6,-.7,-.8,-.9],[69,1.58,.7,.45,.2,-.05,-.3,-.55,-.8,-1.29],
  [70,.6,.5,.4,.3,.2,.1,0,-.1,-.2,-.3,-.4,-.5,-.6,-.7,-.8],[71,1.15,.75,.5,.25,0,-.25,-.5,-.75],
  [72,.6,.5,.4,.3,.2,.1,0,-.1,-.2,-.3,-.4,-.5,-.6,-.7,-.8,-.9,-1.15],[73,.8,.5,.25,0,-.25,-.5,-.75],
  [74,1,.6,.5,.4,.3,.2,.1,0,-.1,-.2,-.3,-.4,-.5,-.6,-.7,-.8],[75,.7,.45,.2,-.05,-.3,-.55,-.8],
  [76,1.1,.6,.5,.4,.3,.2,.1,0,-.1,-.2,-.3,-.4,-.5,-.6,-.7,-.8,-.9],[77,.75,.5,.25,0,-.25,-.5,-.75,-1.24,-1.54],
  [78,1.7,.6,.5,.4,.3,.2,.1,0,-.1,-.2,-.3,-.4,-.5,-.6,-.7,-.8],[79,1.75,.9,.7,.45,.2,-.05,-.3,-.55,-.8],
  [80,1.75,.6,.5,.4,.3,.2,.1,0,-.1,-.2,-.3,-.4,-.5,-.6,-.7,-.8,-.9],[81,.75,.5,.25,0,-.25,-.5,-.75,-1],
  [82,2.27,1.6,1.4,.6,.5,.4,.3,.2,.1,0,-.1,-.2,-.3,-.4,-.5,-.6,-.7,-.8,-1.2,-1.45,-1.53,-1.6],
  [83,.7,.45,.2,-.05,-.3,-.55,-.8],[84,2.3,1.3,.6,.5,.4,.3,.2,.1,0,-.1,-.2,-.3,-.4,-.5,-.6,-.7,-.8,-.9],
  [85,1.2,.75,.5,.25,0,-.25,-.5,-.75,-1.1],[86,.6,.5,.4,.3,.2,.1,0,-.1,-.2,-.3,-.4,-.5,-.6,-.7,-.8],
  [87,1.2,.7,.45,.2,-.05,-.3,-.55,-.8],[88,1.05,.6,.5,.4,.3,.2,.1,0,-.1,-.2,-.3,-.4,-.5,-.6,-.7,-.8,-.9],
  [89,.75,.5,.25,0,-.25,-.5,-.75],[90,.6,.5,.4,.3,.2,.1,0,-.1,-.2,-.3,-.4,-.5,-.6,-.7,-.8,-1.33],
  [91,1.62,1,.7,.45,.2,-.05,-.3,-.55],[92,.6,.5,.4,.3,.2,.1,0,-.1,-.2,-.3,-.4,-.5,-.6,-.7,-.8,-.9],
  [93,1.6,1.2,.75,.5,.25,0,-.25,-.5,-.75,-1.17],[94,.6,.5,.4,.3,.2,.1,0,-.1,-.2,-.3,-.4,-.5,-.6],
  [95,1,.7,.45,.2,-.05,-.3,-.55,-.8],[96,2.21,.6,.5,.4,.3,.2,.1,0,-.1,-.2,-.3,-.4,-.5,-.6],
  [97,1.4,.75,.5,.25,0,-.25,-.5],[98,.6,.5,.4,.3,.2,.1,0,-.1,-.2,-.3,-.4,-.5,-.6,-.7,-.8],
  [99,2.12,1.1,.7,.45,.2,-.05,-.3,-.55],[100,1.99,1.5,.6,.5,.4,.3,.2,.1,0,-.1,-.2,-.3,-.4,-.5,-.6],
  [101,.75,.5,.25,0,-.25,-.5,-.8],[102,1.2,.6,.5,.4,.3,.2,.1,0,-.1,-.2,-.3,-.4,-.5,-.6,-1.17],
  [103,2.02,.7,.45,.2,-.05,-.3,-.55],[104,1,.6,.5,.4,.3,.2,.1,0,-.1,-.2,-.3,-.4,-.5,-.6],
  [105,.75,.5,.25,0,-.25,-.5],[106,1.62,1.3,.6,.5,.4,.3,.2,.1,0,-.1,-.2,-.3,-.4,-.5,-.6],
  [107,2,1,.7,.45,.2,-.05,-.3,-.55,-.8,-1.08,-1.48],[108,1.84,1.3,.6,.5,.4,.3,.2,.1,0,-.1,-.2,-.3,-.4,-.5,-.6],
  [109,.8,.5,.25,0,-.25,-.5],[110,1.2,.7,.4,.3,.2,.1,0,-.1,-.2,-.3],[111,.6,.3,.05,-.2,-.45],
  [112,1.2,.4,.3,.2,.1,0,-.1,-.2,-.3,-.4],[114,.3,-.2,-.65],[115,-.65],[117,-.73],[118,-.82]
];

const saRegionVI = [
  [10,1.28,-.12],[14,1.49,.52],[15,1.31,.52,.38,.14,-.07],[16,2.94],[17,1.08,.53,-.17],
  [18,2.32,1.97,1.59,1.46,1.33,1.08,.76,.63,.18,-.04,-.47],[19,2.1,1.02,.31,-.58],[20,1.15,.76,.38,-.13,-.45],
  [21,2.65,1.15,.82,.63,.38,.12,-.33],[22,1.15,.76,.44,.12,-.13,-.52],[23,1.08,.57,.31,0,-.26,-.52,-.71,-1.13,-1.84],
  [24,1.02,.69,.31,-.13,-.45,-.71],[25,.89,.57,.31,.12,-.2,-.52],[26,.76,.5,.18,-.07,-.33,-.52],[27,.82,.5,.25,-.07,-.33,-.71],
  [28,2.08,1.82,1.62,1.52,1.46,1.2,1.02,.69,.25,-.13,-.39,-.64],[29,1.82,1.27,.76,.5,.12,-.26,-.52,-.74],
  [30,1.08,.76,.44,.12,-.13,-.39,-.71],[31,1.08,.76,.5,.25,0,-.26,-.52],[32,.57,.31,0,-.26,-.52,-1.08],
  [33,2.71,1.08,.89,.57,.31,0,-.26,-.52],[34,.95,.63,.38,.06,-.26,-.52],[35,.89,.63,.31,0,-.33,-.64],[36,.38,.12,-.13,-.39,-.64],
  [37,.63,.31,.06,-.2,-.45,-.77,-.99],[38,1.13,.44,.12,-.13,-.39,-.64,-.83],[39,.44,.18,-.13,-.39,-.64],[40,.38,.12,-.13,-.39,-.64],
  [41,.69,.44,.18,-.07,-.33,-.58,-.77],[42,.57,.31,0,-.26,-.52,-.77,-1.2,-1.75],
  [43,.4,.2,0,-.2,-.4,-.6,-.8],[44,.5,.3,.2,.1,0,-.1,-.2,-.3,-.4,-.5,-.6,-.7,-.8,-.9],[45,.6,.2,0,-.2,-.4,-.6,-.8],
  [46,.3,.2,.1,0,-.1,-.2,-.3,-.4,-.5,-.6,-.7,-.8,-.9],[47,.5,.2,0,-.2,-.4,-.6,-.8,-1,-1.48],
  [48,.3,.2,.1,0,-.1,-.2,-.3,-.4,-.5,-.6,-.7,-.8,-.9],[49,.6,.4,.2,0,-.2,-.4,-.6,-.8,-1],
  [50,.85,.3,.2,.1,0,-.1,-.2,-.3,-.4,-.5,-.6,-.7,-.8,-.9,-1,-1.1],[51,.5,.2,0,-.2,-.4,-.6,-.8,-1],
  [52,.7,.3,.2,.1,0,-.1,-.2,-.3,-.4,-.5,-.6,-.7,-.8,-.9,-1,-1.1,-1.2,-1.3,-1.6,-1.7,-1.76],
  [53,.4,.2,0,-.2,-.4,-.6,-.8,-1],[54,.55,.3,.2,.1,0,-.1,-.2,-.3,-.4,-.5,-.6,-.7,-.8,-.9,-1,-1.1],
  [55,.8,.4,.2,0,-.2,-.4,-.6,-.8,-1,-1.2],[56,.3,.2,.1,0,-.1,-.2,-.3,-.4,-.5,-.6,-.7,-.8,-.9,-1,-1.1],
  [57,1.14,.5,.2,0,-.2,-.4,-.6,-.8,-1,-1.2,-1.4],[58,.3,.2,.1,0,-.1,-.2,-.3,-.4,-.5,-.6,-.7,-.8,-.9,-1,-1.1,-1.2,-1.3,-1.55,-1.6],
  [59,.6,.2,0,-.2,-.4,-.6,-.8,-1,-1.2],[60,.4,.1,0,-.1,-.2,-.3,-.4,-.5,-.6,-.7,-.8,-.9,-1,-1.1,-1.2,-1.3],
  [61,1.14,.5,.2,0,-.2,-.4,-.6,-.8,-1,-1.2],[62,.3,.1,0,-.1,-.2,-.3,-.4,-.5,-.6,-.7,-.8,-.9,-1,-1.1,-1.2,-1.3],
  [63,.45,.2,0,-.2,-.4,-.6,-.8,-1,-1.2,-1.4,-1.9],[64,.3,.1,0,-.1,-.2,-.3,-.4,-.5,-.6,-.7,-.8,-.9,-1,-1.1],
  [65,.6,.2,0,-.2,-.4,-.5,-.6,-.8,-1,-1.2,-1.45],[66,.3,.1,0,-.1,-.2,-.3,-.4,-.5,-.6,-.7,-.8,-.9,-1,-1.1,-1.2,-1.3],
  [67,.4,.2,0,-.2,-.4,-.6,-.7,-.8,-1,-1.2],[68,.95,.5,.1,0,-.1,-.2,-.3,-.4,-.5,-.6,-.7,-.8,-.9,-1,-1.1,-1.2,-1.3,-1.55],
  [69,.3,.2,0,-.2,-.4,-.5,-.6,-.8,-1,-1.2],[70,.4,.1,0,-.1,-.2,-.3,-.4,-.5,-.6,-.7,-.8,-.9,-1,-1.1,-1.2,-1.3],
  [71,.6,.2,0,-.2,-.3,-.4,-.6,-.8,-1,-1.2,-1.4],[72,.3,.1,0,-.1,-.2,-.3,-.4,-.5,-.6,-.7,-.8,-.9,-1,-1.1,-1.2,-1.3],
  [73,.5,.2,0,-.2,-.4,-.5,-.6,-.8,-1,-1.2,-1.5],[74,.3,.1,0,-.1,-.2,-.3,-.4,-.5,-.6,-.7,-.8,-.9,-1,-1.1,-1.2,-1.3],
  [75,.4,.2,0,-.2,-.4,-.6,-.7,-.8,-1,-1.2],[76,.6,.1,0,-.1,-.2,-.3,-.4,-.5,-.6,-.7,-.8,-.9,-1,-1.1,-1.2,-1.3,-1.4],
  [77,.3,.2,0,-.2,-.4,-.5,-.6,-.8,-1,-1.2,-1.5,-1.87,-2.17],[78,.5,.1,0,-.1,-.2,-.3,-.4,-.5,-.6,-.7,-.8,-.9,-1,-1.1,-1.2,-1.3],
  [79,1.68,.4,.2,0,-.2,-.3,-.4,-.6,-.8,-1,-1.2,-1.4],[80,1.05,.9,.3,.1,0,-.1,-.2,-.3,-.4,-.5,-.6,-.7,-.8,-.9,-1,-1.1,-1.2,-1.3],
  [81,.6,.2,0,-.2,-.4,-.5,-.6,-.8,-1,-1.2,-1.4],
  [82,1.68,.95,.8,.3,.1,0,-.1,-.2,-.3,-.4,-.5,-.6,-.7,-.8,-.9,-1,-1.1,-1.2,-1.3,-1.4,-1.5,-1.9,-2,-2.1,-2.24],
  [83,1.64,.4,.2,0,-.2,-.4,-.6,-.7,-.8,-1,-1.2],[84,.3,.1,0,-.1,-.2,-.3,-.4,-.5,-.6,-.7,-.8,-.9,-1,-1.1,-1.2,-1.3,-1.75],
  [85,.8,.2,0,-.2,-.4,-.6,-.8,-1,-1.2,-1.4],[86,.5,.1,0,-.1,-.2,-.3,-.4,-.5,-.6,-.7,-.8,-.9,-1,-1.1,-1.2,-1.3],
  [87,.4,.2,0,-.2,-.4,-.6,-.8,-1,-1.2],[88,.6,.1,0,-.1,-.2,-.3,-.4,-.5,-.6,-.7,-.8,-.9,-1,-1.1,-1.2,-1.3,-1.5],
  [89,.3,.2,0,-.2,-.4,-.6,-.8,-1,-1.2,-1.4],[90,.5,.1,0,-.1,-.2,-.3,-.4,-.5,-.6,-.7,-.8,-.9,-1,-1.1,-1.2,-1.3,-1.95],
  [91,.7,.2,0,-.2,-.4,-.6,-.8,-1,-1.2,-2.03],[92,.3,.1,0,-.1,-.2,-.3,-.4,-.5,-.6,-.7,-.8,-.9,-1,-1.1,-1.2,-1.3],
  [93,.4,.2,0,-.2,-.4,-.6,-.8,-1,-1.2,-1.45],[94,.6,.1,0,-.1,-.2,-.3,-.4,-.5,-.6,-.7,-.8,-.9,-1,-1.1],
  [95,.3,.2,0,-.2,-.4,-.6,-.8,-1,-1.2],
  [96,1.59,.5,.2,-.1,-.4,-.7,-1,-1.3],[97,.4,.1,-.2,-.5,-.8,-1.1],[98,.8,.3,0,-.1,-.2,-.3,-.4,-.5,-.6,-.7,-.8,-.9,-1,-1.1,-1.2],
  [99,1.44,.5,.2,-.1,-.4,-.7,-1],[100,1.44,1.1,.3,0,-.3,-.6,-.9,-1.2],[101,.4,.1,-.2,-.5,-.8,-1.1,-1.4],
  [102,.6,.3,0,-.1,-.2,-.3,-.4,-.5,-.6,-.7,-.8,-.9,-1,-1.1,-1.2,-1.84],[103,1.37,.2,-.1,-.4,-.7,-1,-1.3],
  [104,.5,.2,-.1,-.4,-.7,-1],[105,.3,0,-.3,-.6,-.9,-1.2],[106,1,.4,.1,-.2,-.5,-.8,-1.1,-1.4],
  [107,.8,.3,0,-.1,-.2,-.3,-.4,-.5,-.6,-.7,-.8,-.9,-1,-1.2,-1.5,-1.7,-2.14],[108,1.38,1.28,.5,.2,-.1,-.4,-.7,-1,-1.3],
  [109,.3,0,-.3,-.6,-.9,-1.2],[110,.2,-.1,-.4,-.7,-1],[111,.5,.1,-.2,-.5,-.8,-1.1],[112,-.4,-.6,-.8,-1,-1.2],
  [113,.5,.35,-.3,-.4,-.5,-.6,-.7,-.8,-.9],[114,-.2,-.5,-.8,-1.2],[115,-.85],[117,-1.1,-1.15],[118,-1.1],
  [44,.45,-1],[46,.4,.5,-1,-1.1],[48,.4,.5,-1],[50,.4,.55,-1.2],[54,.4,-1.2],[56,.4,.5,-1.2,-1.3],[58,.4,-1.4],
  [60,.5,-1.4],[62,.4,.55,-1.4],[64,.4,-1.2,-1.3],[66,.45,-1.4,-1.5],[68,-1.4],[70,.5,-1.4,-1.5],[72,.4,.5,-1.4],
  [74,.4,-1.4,-1.5],[76,-1.5],[78,.4,-1.4,-1.5],[80,-1.4,-1.5],[84,.4,-1.4],[86,.3,-1.4,-1.5],[88,.3,-1.4],
  [90,.3,.4,-1.4],[92,.4,-1.4,-1.5],[94,.3,-1.2,-1.3]
];

const ageTicks = [25, 50, 75, 100];
const ageMinor = [12.5, 37.5, 62.5, 87.5, 112.5];
const residTicks = [-2, 0, 2];
const residMinor = [-3, -1, 1, 3];
const panelLetters = ["A", "B", "C", "D", "E", "F"];
const yTitles = [
  "Residuals ALS [m] - Global", "Residuals SA [m] - Global",
  "Residuals ALS [m] - Region V", "Residuals SA [m] - Region V",
  "Residuals ALS [m] - Region VI", "Residuals SA [m] - Region VI"
];
const xTitle = "Age [years]";

const panels = [
  { rows: alsGlobal, color: "#00c86a", opacity: 0.8 },
  { rows: saGlobal, color: "#000000", opacity: 0.63 },
  { rows: alsRegionV, color: "#006400", opacity: 0.68 },
  { rows: saRegionV, color: "#ff6347", opacity: 0.55 },
  { rows: alsRegionVI, color: "#84ee00", opacity: 0.48 },
  { rows: saRegionVI, color: "#0000ff", opacity: 0.62 }
];

// layout
const W = 1052, H = 1178;
const colLeft = [39.5, 569.5], colWidth = [481, 479.5];
const rowTop = [2, 397, 791], plotH = 345;

const svg = d3.select("#chart").append("svg")
  .attr("width", W).attr("height", H);

panels.forEach((p, i) => {
  const col = i % 2, row = Math.floor(i / 2);
  const w = colWidth[col];

  const x = d3.scaleLinear().domain([4.45, 123.3]).range([0, w]);
  const y = d3.scaleLinear().domain([-3.3, 3.29]).range([plotH, 0]);

  const g = svg.append("g")
    .attr("transform", `translate(${colLeft[col]},${rowTop[row]})`);

  // grid
  g.append("g").selectAll("line").data(ageMinor).join("line")
    .attr("x1", d => x(d)).attr("x2", d => x(d)).attr("y1", 0).attr("y2", plotH)
    .attr("stroke", "#f4f4f4").attr("stroke-width", 0.6);
  g.append("g").selectAll("line").data(residMinor).join("line")
    .attr("y1", d => y(d)).attr("y2", d => y(d)).attr("x1", 0).attr("x2", w)
    .attr("stroke", "#f4f4f4").attr("stroke-width", 0.6);
  g.append("g").selectAll("line").data(ageTicks).join("line")
    .attr("x1", d => x(d)).attr("x2", d => x(d)).attr("y1", 0).attr("y2", plotH)
    .attr("stroke", "#ebebeb").attr("stroke-width", 1.1);
  g.append("g").selectAll("line").data(residTicks).join("line")
    .attr("y1", d => y(d)).attr("y2", d => y(d)).attr("x1", 0).attr("x2", w)
    .attr("stroke", "#ebebeb").attr("stroke-width", 1.1);

  // points
  const pts = p.rows.flatMap(r => r.slice(1).map(v => [r[0], v]));
  g.append("g").selectAll("circle").data(pts).join("circle")
    .attr("cx", d => x(d[0]))
    .attr("cy", d => y(d[1]))
    .attr("r", 3.2)
    .attr("fill", p.color)
    .attr("fill-opacity", p.opacity);

  // zero line
  g.append("line")
    .attr("x1", 0).attr("x2", w).attr("y1", y(0)).attr("y2", y(0))
    .attr("stroke", "#333").attr("stroke-width", 1.1);

  // border
  g.append("rect")
    .attr("width", w).attr("height", plotH)
    .attr("fill", "none").attr("stroke", "#6e6e6e").attr("stroke-width", 1.2);

  // axes
  const styleAxis = s => {
    s.select(".domain").remove();
    s.selectAll("line").attr("stroke", "#333");
    s.selectAll("text").attr("fill", "#4d4d4d").attr("font-size", 13)
      .attr("font-family", "'Liberation Sans', Arial, sans-serif");
  };
  g.append("g").attr("transform", `translate(0,${plotH})`)
    .call(d3.axisBottom(x).tickValues(ageTicks).tickSize(3.5).tickPadding(3))
    .call(styleAxis);
  g.append("g")
    .call(d3.axisLeft(y).tickValues(residTicks).tickSize(3.5).tickPadding(2).tickFormat(d => String(d)))
    .call(styleAxis);

  // titles
  g.append("text")
    .attr("x", w / 2).attr("y", plotH + 34)
    .attr("text-anchor", "middle").attr("font-size", 17).attr("fill", "#000")
    .text(xTitle);
  g.append("text")
    .attr("transform", `translate(-20,${plotH / 2}) rotate(-90)`)
    .attr("text-anchor", "middle").attr("font-size", 17).attr("fill", "#000")
    .text(yTitles[i]);

  // panel letter
  svg.append("text")
    .attr("x", col === 0 ? 4 : 532).attr("y", rowTop[row] + 18)
    .attr("font-size", 21).attr("font-weight", "bold").attr("fill", "#000")
    .text(panelLetters[i]);
});
</script>
</body>
</html>
